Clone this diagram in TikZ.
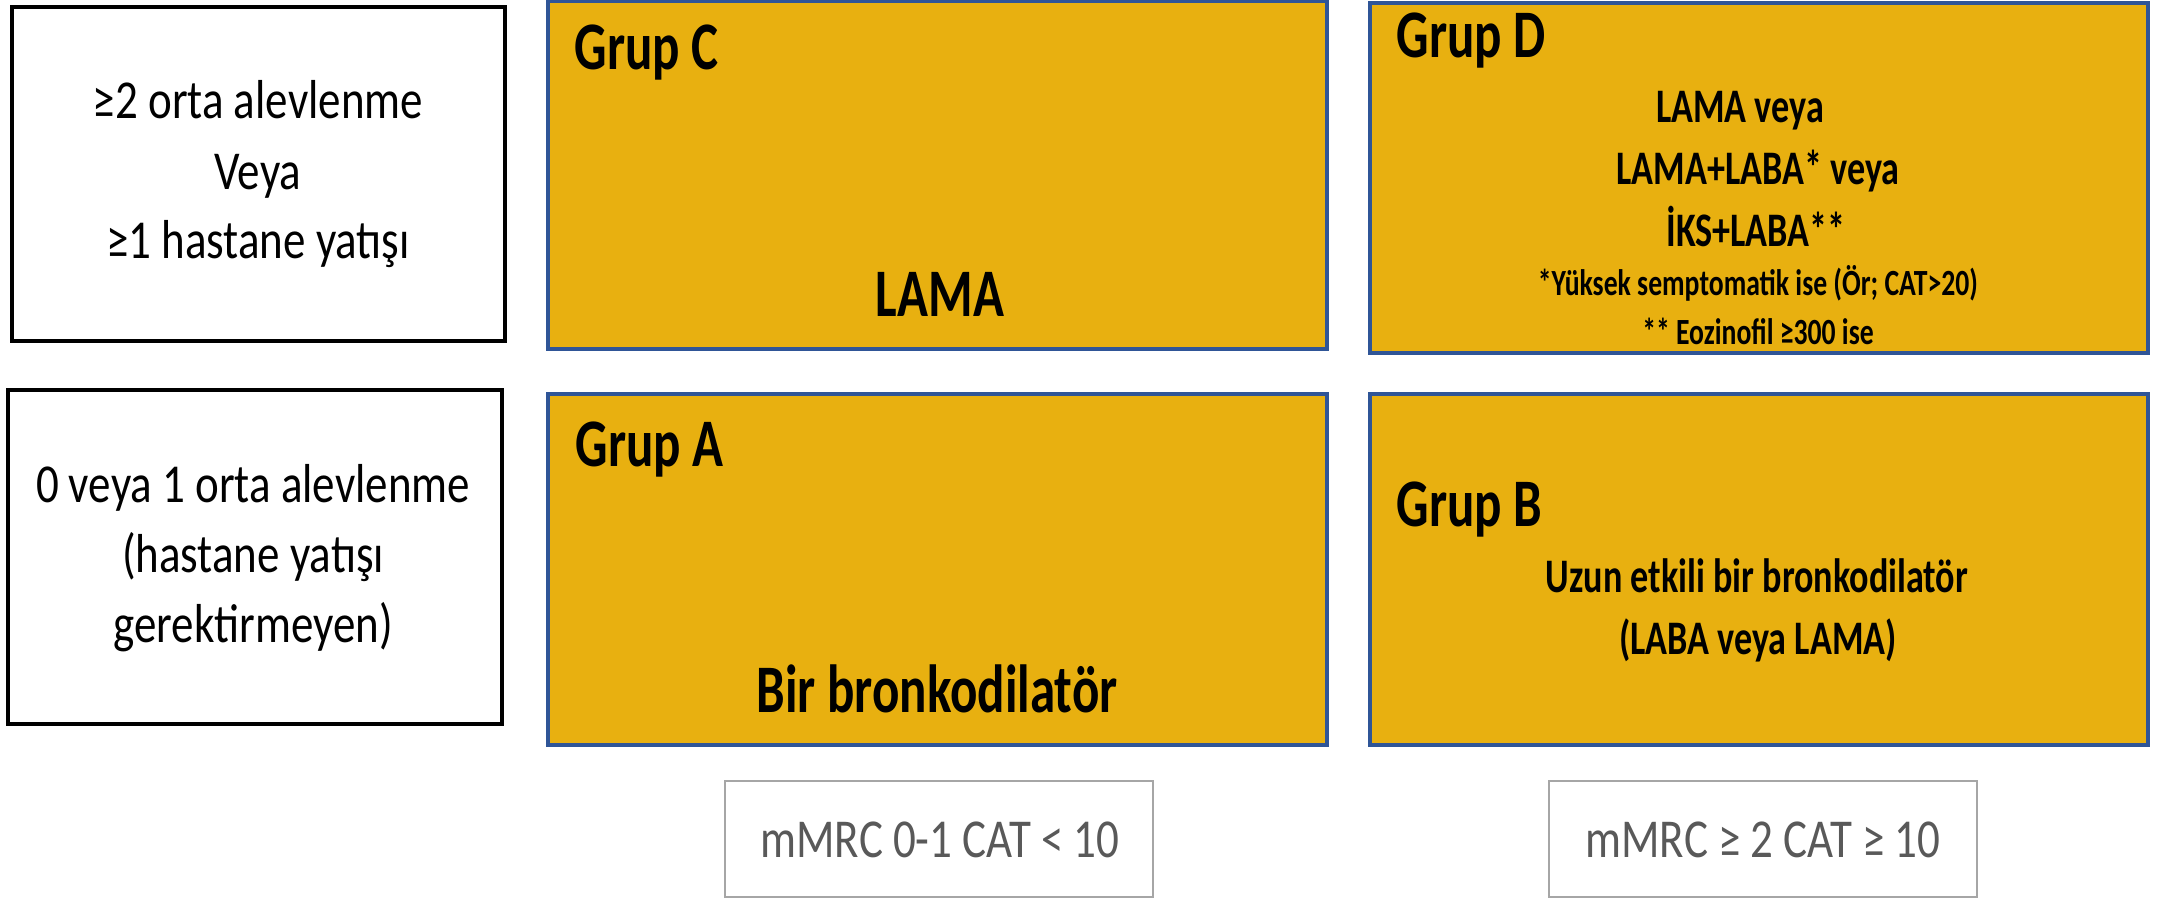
\documentclass[tikz,border=0pt]{standalone}
\usepackage{fontspec}
\setmainfont{Carlito}
\newfontfamily\rfam[FakeStretch=0.82]{Carlito}
\newfontfamily\bfam[FakeStretch=0.75]{Carlito}
\definecolor{gold}{RGB}{232,176,16}
\definecolor{bblue}{RGB}{47,85,151}
\definecolor{gline}{RGB}{166,166,166}
\definecolor{gtext}{RGB}{89,89,89}
\begin{document}
\begin{tikzpicture}[x=0.01cm,y=-0.01cm,
  crit/.style={draw=black, line width=1.14pt, fill=white, inner sep=0pt, outer sep=0pt, anchor=north west},
  grp/.style={draw=bblue, line width=1.14pt, fill=gold, inner sep=0pt, outer sep=0pt, anchor=north west},
  axisbox/.style={draw=gline, line width=0.6pt, fill=white, inner sep=0pt, outer sep=0pt, anchor=north west},
  reg/.style={font=\rfam\fontsize{15.6}{20}\selectfont, anchor=base, inner sep=0pt},
  axtxt/.style={reg, text=gtext},
  big/.style={font=\bfam\bfseries\fontsize{19.35}{23}\selectfont, anchor=base, inner sep=0pt},
  biglbl/.style={big, anchor=base west},
  mid/.style={font=\bfam\bfseries\fontsize{13.7}{16}\selectfont, anchor=base, inner sep=0pt},
  small/.style={font=\bfam\bfseries\fontsize{10.5}{12}\selectfont, anchor=base, inner sep=0pt}
]
\useasboundingbox (0,0) rectangle (2172,898);
% criteria boxes
\node[crit, minimum width=4.93cm, minimum height=3.34cm] (k1) at (12,7) {};
\node[crit, minimum width=4.94cm, minimum height=3.34cm] (k2) at (8,390) {};
% group boxes
\node[grp, minimum width=7.79cm, minimum height=3.475cm] (gc) at (548,1.5) {};
\node[grp, minimum width=7.78cm, minimum height=3.50cm] (gd) at (1370,3) {};
\node[grp, minimum width=7.79cm, minimum height=3.51cm] (ga) at (548,394) {};
\node[grp, minimum width=7.78cm, minimum height=3.51cm] (gb) at (1370,394) {};
% axis boxes
\node[axisbox, minimum width=4.28cm, minimum height=1.16cm] (ax1) at (725,781) {};
\node[axisbox, minimum width=4.28cm, minimum height=1.16cm] (ax2) at (1549,781) {};
% criteria texts
\node[reg] (k1a) at (258,119) {≥2 orta alevlenme};
\node[reg] (k1b) at (258,190) {Veya};
\node[reg] (k1c) at (258,259) {≥1 hastane yatışı};
\node[reg] (k2a) at (253,503) {0 veya 1 orta alevlenme};
\node[reg] (k2b) at (253,573) {(hastane yatışı};
\node[reg] (k2c) at (253,643) {gerektirmeyen)};
% group C
\node[biglbl] (gct) at (574,70) {Grup C};
\node[big] (gcx) at (940,317) {LAMA};
% group D
\node[biglbl] (gdt) at (1396,58) {Grup D};
\node[mid] (gd1) at (1740,123) {LAMA veya};
\node[mid] (gd2) at (1758,185) {LAMA+LABA* veya};
\node[mid] (gd3) at (1756,247) {İKS+LABA**};
\node[small] (gd4) at (1758,296) {*Yüksek semptomatik ise (Ör; CAT>20)};
\node[small] (gd5) at (1758,345) {** Eozinofil ≥300 ise};
% group A
\node[biglbl] (gat) at (575,467) {Grup A};
\node[big] (gax) at (937,713) {Bir bronkodilatör};
% group B
\node[biglbl] (gbt) at (1396,527) {Grup B};
\node[mid] (gb1) at (1757,593) {Uzun etkili bir bronkodilatör};
\node[mid] (gb2) at (1758,655) {(LABA veya LAMA)};
% axis texts
\node[axtxt] (ax1t) at (940,858) {mMRC 0-1 CAT < 10};
\node[axtxt] (ax2t) at (1763,858) {mMRC ≥ 2 CAT ≥ 10};
\end{tikzpicture}
\end{document}
